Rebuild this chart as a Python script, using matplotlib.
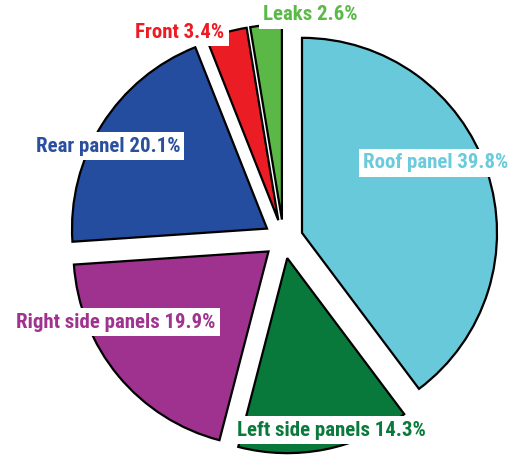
import matplotlib
matplotlib.use("Agg")
import matplotlib.pyplot as plt

# Data
categories = ["Roof panel", "Left side panels", "Right side panels", "Rear panel", "Front", "Leaks"]
values = [39.8, 14.3, 19.9, 20.1, 3.4, 2.6]

# Styles
colors = ["#68C9DA", "#08793B", "#9E328E", "#244C9F", "#EC1C24", "#5BB846"]
label_colors = ["#6ACBDC", "#0A7A3C", "#A0338F", "#2A4F9F", "#ED1C24", "#5BB947"]
# label centres in pixels (x, y from top)
label_pos = [(436, 163), (331, 430), (116, 322), (108, 146), (180, 32), (310, 15)]

fam = ["Roboto Condensed", "DejaVu Sans"]
fsize = 15

W, H = 518, 455
fig = plt.figure(figsize=(W / 100, H / 100), dpi=100)
ax = fig.add_axes([0, 0, 1, 1])

ax.pie(values, colors=colors, startangle=90, counterclock=False,
       explode=[0.1] * len(values),
       wedgeprops=dict(edgecolor="black", linewidth=1.6))
ax.set_aspect("auto")
cx, cy, r = 283.5, 239.0, 195.0
ax.set_xlim(-cx / r, (W - cx) / r)
ax.set_ylim(-(H - cy) / r, cy / r)
ax.axis("off")

for cat, v, col, (px, py) in zip(categories, values, label_colors, label_pos):
    fig.text(px / W, 1 - py / H, f"{cat} {v}%", color=col, fontsize=fsize,
             fontweight="bold", family=fam,
             ha="center", va="center",
             bbox=dict(boxstyle="square,pad=0.2", fc="white", ec="none"))

fig.savefig("out.png", dpi=100)
